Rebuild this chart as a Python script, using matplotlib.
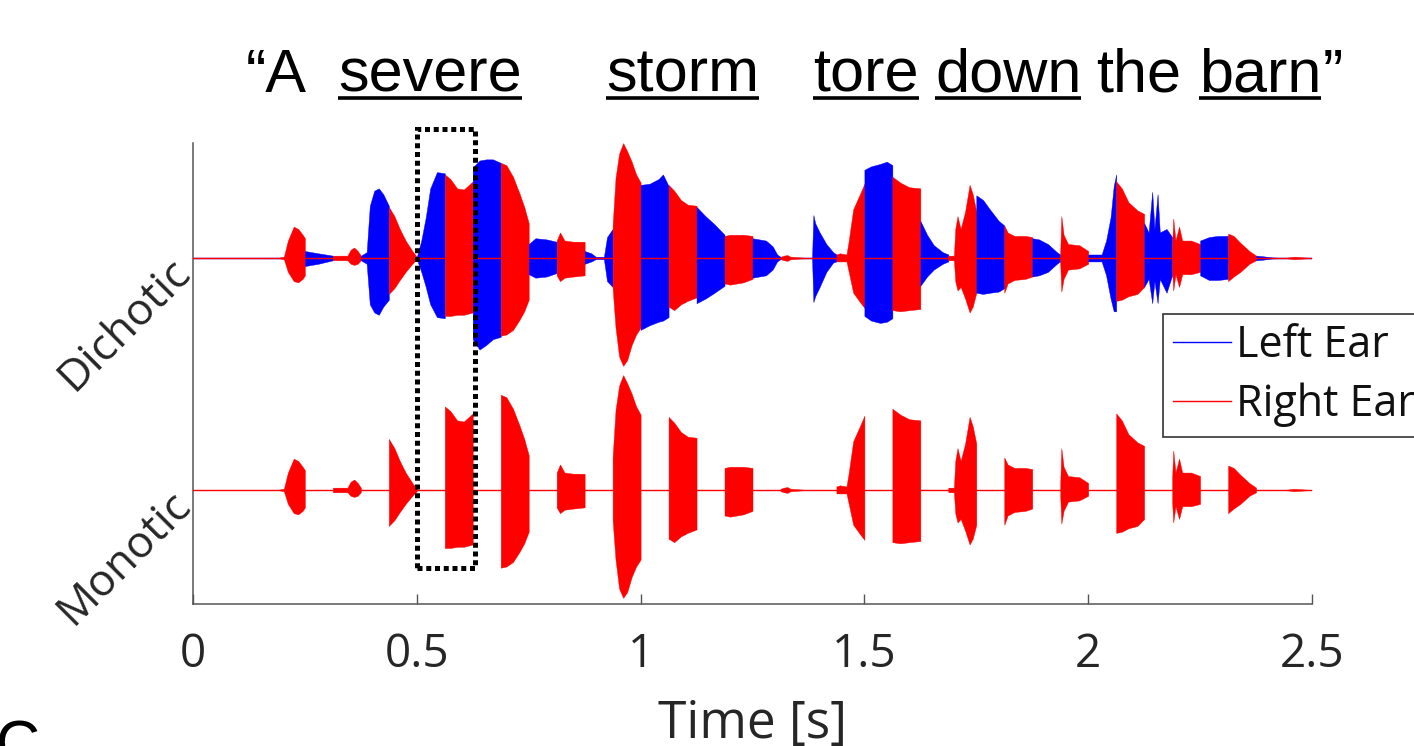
import numpy as np
import matplotlib
matplotlib.use("Agg")
import matplotlib.pyplot as plt
from matplotlib.lines import Line2D
from matplotlib.patches import Rectangle

# ---------------- data ----------------
# ear-switching boundaries [s]; segments alternate Right (red) / Left (blue), starting with Right
switch_times = [0.1875, 0.25, 0.3125, 0.375, 0.4375, 0.5, 0.5625, 0.625, 0.6875,
                0.75, 0.8125, 0.875, 0.9375, 1.0, 1.0625, 1.125, 1.1875, 1.25,
                1.3125, 1.375, 1.4375, 1.5, 1.5625, 1.625, 1.6875, 1.75, 1.8125,
                1.875, 1.9375, 2.0, 2.0625, 2.125, 2.1875, 2.25, 2.3125, 2.375,
                2.4375, 2.5]

# speech waveform envelope key points: time [s], upper and lower peak amplitude
env_t = [
    0.1875, 0.203, 0.212, 0.225, 0.235, 0.245, 0.25,
    0.25, 0.28, 0.3125,
    0.3125, 0.345, 0.352, 0.36, 0.368, 0.375,
    0.375, 0.388, 0.395, 0.405, 0.415, 0.425, 0.4375,
    0.4375, 0.45, 0.462, 0.475, 0.49, 0.5,
    0.5, 0.51, 0.52, 0.53, 0.545, 0.5625,
    0.5625, 0.575, 0.59, 0.605, 0.625,
    0.625, 0.64, 0.655, 0.67, 0.6875,
    0.6875, 0.70, 0.715, 0.73, 0.74, 0.75,
    0.75, 0.765, 0.79, 0.8125,
    0.8125, 0.82, 0.83, 0.85, 0.875,
    0.875, 0.89, 0.90, 0.918, 0.925, 0.9375,
    0.9375, 0.944, 0.952, 0.961, 0.97, 0.98, 0.99, 1.0,
    1.0, 1.02, 1.04, 1.05, 1.0625,
    1.0625, 1.075, 1.09, 1.105, 1.125,
    1.125, 1.145, 1.165, 1.1875,
    1.1875, 1.20, 1.23, 1.25,
    1.25, 1.28, 1.295, 1.305, 1.3125,
    1.3125, 1.32, 1.328, 1.335, 1.375,
    1.375, 1.383, 1.386, 1.39, 1.40, 1.415, 1.43, 1.4375,
    1.4375, 1.445, 1.46, 1.465, 1.475, 1.49, 1.5,
    1.5, 1.515, 1.535, 1.55, 1.5625,
    1.5625, 1.58, 1.60, 1.625,
    1.625, 1.64, 1.655, 1.675, 1.6875,
    1.6875, 1.70, 1.703, 1.708, 1.715, 1.725, 1.735, 1.742, 1.75,
    1.75, 1.765, 1.78, 1.80, 1.8125,
    1.8125, 1.82, 1.835, 1.86, 1.875,
    1.875, 1.89, 1.91, 1.93, 1.9375,
    1.9375, 1.94, 1.945, 1.955, 1.98, 2.0,
    2.0, 2.03, 2.04, 2.05, 2.057, 2.0625,
    2.0625, 2.075, 2.09, 2.11, 2.125,
    2.125, 2.135, 2.143, 2.148, 2.155, 2.16, 2.175, 2.1875,
    2.1875, 2.19, 2.195, 2.203, 2.21, 2.23, 2.25,
    2.25, 2.27, 2.29, 2.3125,
    2.3125, 2.325, 2.34, 2.36, 2.375,
    2.375, 2.39, 2.41, 2.4375,
    2.4375, 2.46, 2.48, 2.5,
]
env_up = [
    0.0, 0.01, 0.15, 0.27, 0.25, 0.20, 0.17,
    0.06, 0.04, 0.02,
    0.02, 0.02, 0.07, 0.09, 0.06, 0.02,
    0.02, 0.05, 0.45, 0.58, 0.60, 0.55, 0.45,
    0.44, 0.36, 0.25, 0.15, 0.06, 0.01,
    0.01, 0.15, 0.35, 0.60, 0.74, 0.73,
    0.72, 0.68, 0.60, 0.59, 0.66,
    0.78, 0.84, 0.85, 0.85, 0.82,
    0.82, 0.80, 0.70, 0.55, 0.44, 0.30,
    0.12, 0.17, 0.16, 0.14,
    0.15, 0.22, 0.15, 0.14, 0.14,
    0.06, 0.04, 0.01, 0.01, 0.18, 0.25,
    0.28, 0.69, 0.90, 0.99, 0.92, 0.83, 0.72, 0.65,
    0.63, 0.64, 0.68, 0.72, 0.62,
    0.63, 0.58, 0.50, 0.46, 0.45,
    0.44, 0.36, 0.29, 0.20,
    0.19, 0.20, 0.20, 0.19,
    0.17, 0.15, 0.10, 0.03, 0.01,
    0.01, 0.02, 0.025, 0.01, 0.0,
    0.0, 0.0, 0.37, 0.30, 0.22, 0.12, 0.05, 0.03,
    0.03, 0.04, 0.03, 0.15, 0.42, 0.55, 0.64,
    0.76, 0.79, 0.81, 0.83, 0.80,
    0.70, 0.65, 0.61, 0.60,
    0.32, 0.20, 0.11, 0.05, 0.03,
    0.02, 0.02, 0.25, 0.36, 0.25, 0.40, 0.63, 0.55, 0.40,
    0.54, 0.50, 0.42, 0.32, 0.28,
    0.28, 0.22, 0.19, 0.19, 0.18,
    0.17, 0.16, 0.12, 0.05, 0.03,
    0.05, 0.36, 0.20, 0.12, 0.11, 0.06,
    0.03, 0.03, 0.15, 0.35, 0.62, 0.72,
    0.66, 0.60, 0.48, 0.41, 0.38,
    0.30, 0.22, 0.57, 0.25, 0.55, 0.22, 0.25, 0.18,
    0.10, 0.34, 0.15, 0.27, 0.15, 0.15, 0.12,
    0.15, 0.18, 0.19, 0.19,
    0.21, 0.19, 0.13, 0.06, 0.02,
    0.02, 0.015, 0.005, 0.0,
    0.0, 0.01, 0.005, 0.0,
]
env_lo = [
    0.0, 0.01, 0.12, 0.20, 0.21, 0.18, 0.15,
    0.07, 0.05, 0.02,
    0.02, 0.02, 0.05, 0.06, 0.05, 0.02,
    0.02, 0.05, 0.40, 0.47, 0.49, 0.42, 0.36,
    0.31, 0.26, 0.19, 0.12, 0.05, 0.01,
    0.01, 0.12, 0.25, 0.40, 0.51, 0.52,
    0.50, 0.50, 0.49, 0.49, 0.47,
    0.70, 0.79, 0.75, 0.70, 0.68,
    0.67, 0.66, 0.62, 0.53, 0.46, 0.36,
    0.14, 0.17, 0.16, 0.13,
    0.15, 0.20, 0.17, 0.16, 0.15,
    0.05, 0.03, 0.01, 0.01, 0.20, 0.25,
    0.26, 0.60, 0.85, 0.93, 0.88, 0.75, 0.66, 0.60,
    0.62, 0.58, 0.55, 0.54, 0.51,
    0.42, 0.45, 0.40, 0.37, 0.34,
    0.39, 0.35, 0.30, 0.24,
    0.22, 0.23, 0.21, 0.18,
    0.17, 0.15, 0.10, 0.03, 0.01,
    0.01, 0.02, 0.025, 0.01, 0.0,
    0.0, 0.0, 0.38, 0.33, 0.25, 0.12, 0.04, 0.03,
    0.03, 0.03, 0.03, 0.12, 0.30, 0.38, 0.43,
    0.50, 0.54, 0.56, 0.55, 0.52,
    0.45, 0.46, 0.45, 0.44,
    0.24, 0.16, 0.10, 0.05, 0.03,
    0.02, 0.02, 0.20, 0.28, 0.25, 0.35, 0.47, 0.42, 0.30,
    0.30, 0.31, 0.30, 0.29, 0.26,
    0.30, 0.22, 0.19, 0.18, 0.16,
    0.16, 0.15, 0.12, 0.05, 0.03,
    0.05, 0.29, 0.18, 0.10, 0.09, 0.05,
    0.03, 0.03, 0.15, 0.35, 0.46, 0.46,
    0.37, 0.36, 0.33, 0.31, 0.25,
    0.25, 0.18, 0.39, 0.20, 0.39, 0.18, 0.30, 0.15,
    0.10, 0.28, 0.14, 0.25, 0.14, 0.14, 0.12,
    0.15, 0.19, 0.19, 0.18,
    0.20, 0.16, 0.12, 0.05, 0.02,
    0.02, 0.015, 0.005, 0.0,
    0.0, 0.01, 0.005, 0.0,
]

row_labels = ["Dichotic", "Monotic"]
legend_labels = ["Left Ear", "Right Ear"]
xtick_vals = [0, 0.5, 1, 1.5, 2, 2.5]
xtick_labels = ["0", "0.5", "1", "1.5", "2", "2.5"]
sentence = [("\u201cA", False), ("severe", True), ("storm", True), ("tore", True),
            ("down", True), ("the", False), ("barn", True)]
highlight_window = (0.5, 0.63)   # dotted box [s]

# ---------------- figure ----------------
W, H = 1414, 746
fig = plt.figure(figsize=(W / 100, H / 100), dpi=100)
ax = fig.add_axes([193 / W, 1 - 604 / H, (1312 - 193) / W, (604 - 143) / H])

RED, BLUE = "#ff0000", "#0000ff"
DICH, MONO = 2.0, 0.0
UI = "Open Sans"

T = np.asarray(env_t); U = np.asarray(env_up); L = np.asarray(env_lo)
S = np.asarray(switch_times)
assert len(T) == len(U) == len(L)

# baselines
ax.plot([0, 2.5], [DICH, DICH], color=BLUE, lw=1.0, zorder=1)

for k in range(len(S) - 1):
    a, b = S[k], S[k + 1]
    i0 = np.searchsorted(T, a, side="right") - 1
    i1 = np.searchsorted(T, b, side="left")
    tt, uu, ll = T[i0:i1 + 1], U[i0:i1 + 1], L[i0:i1 + 1]
    right = (k % 2 == 0)
    col = RED if right else BLUE
    ax.fill_between(tt, DICH + uu, DICH - ll, color=col, lw=0.3, edgecolor=col, zorder=2)
    if right:
        ax.fill_between(tt, MONO + uu, MONO - ll, color=RED, lw=0.3, edgecolor=RED, zorder=2)

ax.plot([0, 2.5], [DICH, DICH], color=RED, lw=1.0, zorder=3)
ax.plot([0, 2.5], [MONO, MONO], color=RED, lw=1.0, zorder=3)

ax.set_xlim(0, 2.5)
ax.set_ylim(-0.983, 2.991)
for s in ("top", "right"):
    ax.spines[s].set_visible(False)
for s in ("left", "bottom"):
    ax.spines[s].set_color("#555555")
    ax.spines[s].set_linewidth(1.1)
ax.set_yticks([])
ax.set_xticks(xtick_vals)
ax.set_xticklabels(xtick_labels, fontfamily=UI, fontsize=33, color="#262626")
ax.tick_params(axis="x", direction="in", length=7, width=1.0, color="#555555", pad=20)
ax.set_xlabel("Time [s]", fontfamily=UI, fontsize=37, color="#262626", labelpad=15)

# row labels
ax.text(-0.02, DICH - 0.069, row_labels[0], rotation=45, rotation_mode="anchor",
        ha="right", va="center", fontfamily=UI, fontsize=32, color="#262626")
ax.text(-0.02, MONO - 0.069, row_labels[1], rotation=45, rotation_mode="anchor",
        ha="right", va="center", fontfamily=UI, fontsize=32, color="#262626")

# dotted highlight box
x0, x1 = highlight_window
rect = Rectangle((x0, -0.672), x1 - x0, 3.112 + 0.672, fill=False, edgecolor="black",
                 lw=3.6, linestyle=(0, (1, 0.75)), clip_on=False, zorder=6)
ax.add_patch(rect)

# legend
handles = [Line2D([], [], color=BLUE, lw=1.0), Line2D([], [], color=RED, lw=1.0)]
leg = fig.legend(handles, legend_labels, loc="upper left",
                 bbox_to_anchor=(1163 / W, 1 - 314 / H), bbox_transform=fig.transFigure,
                 borderaxespad=0, frameon=True, fancybox=False, framealpha=1,
                 edgecolor="#333333", prop={"family": UI, "size": 31},
                 handlelength=1.35, handletextpad=0.12, borderpad=0.23, labelspacing=0.33)
leg.get_frame().set_linewidth(1.2)
for t in leg.get_texts():
    t.set_color("#111111")

# sentence with underlined words
word_x = [246, 338, 606, 813, 935, 1096, 1199]
base_y = 92
fig.canvas.draw()
renderer = fig.canvas.get_renderer()
for (word, underline), xp in zip(sentence, word_x):
    txt = fig.text(xp / W, 1 - base_y / H, word, ha="left", va="baseline",
                   fontfamily="Liberation Sans", fontsize=44, color="black")
    bb = txt.get_window_extent(renderer)
    if underline:
        yl = (H - base_y - 6) / H
        fig.add_artist(Line2D([bb.x0 / W, bb.x1 / W], [yl, yl], color="black", lw=2.6,
                              transform=fig.transFigure, solid_capstyle="butt"))
    if word == "barn":
        fig.text((bb.x1 + 1) / W, 1 - base_y / H, "\u201d", ha="left", va="baseline",
                 fontfamily="Liberation Sans", fontsize=44, color="black")

# partial panel letter at bottom-left corner (cut off by the figure edge, as in the reference)
fig.text(-4 / W, 1 - 720 / H, "C", ha="left", va="top",
         fontfamily="Liberation Sans", fontsize=44, color="black")

fig.savefig("out.png", dpi=100)
